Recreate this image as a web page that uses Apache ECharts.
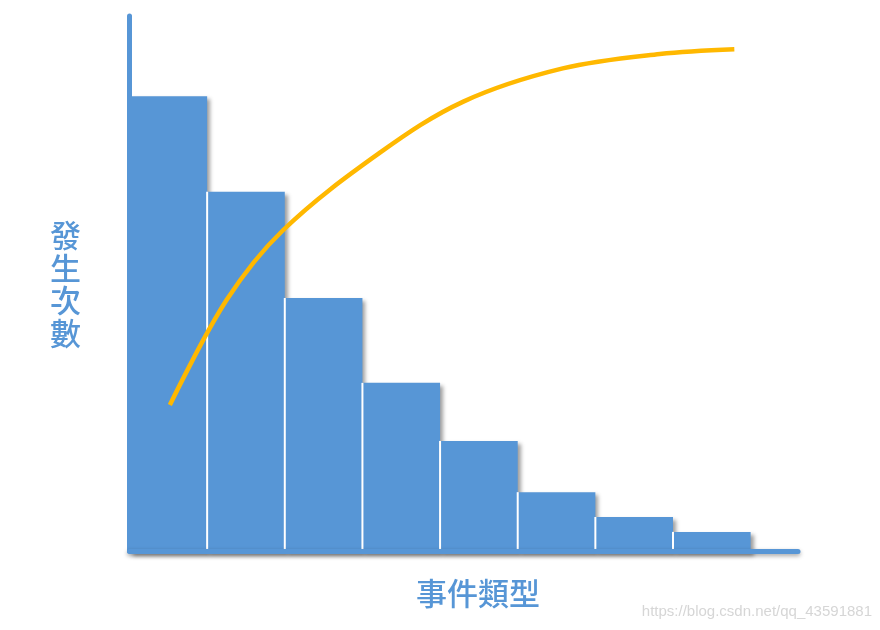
<!DOCTYPE html>
<html>
<head>
<meta charset="utf-8">
<script src="https://cdn.jsdelivr.net/npm/echarts@6/dist/echarts.min.js"></script>
<style>html,body{margin:0;padding:0;background:#fff;}#c{width:880px;height:630px;}</style>
</head>
<body>
<div id="c"></div>
<script>
// Bar values (occurrence counts per event type)
var barValues = [119, 94, 66.2, 44, 28.8, 15.4, 8.9, 5];
// Cumulative curve: x positions (in category units from left axis) and percent values
var curveX = [0.52, 1.25, 1.98, 3.23, 4.30, 5.58, 6.83, 7.79];
var curveY = [27.3, 46.9, 60.0, 74.5, 84.0, 90.2, 92.9, 93.8];
var yTitle = '發生次數';
var xTitle = '事件類型';
var watermark = 'https://blog.csdn.net/qq_43591881';

var BLUE = '#5796d6';
var GOLD = '#FFB800';

var barData = barValues.map(function (v, i) { return [i, v]; });
var lineData = curveX.map(function (x, i) { return [x, curveY[i]]; });

var chart = echarts.init(document.getElementById('c'));
chart.setOption({
  animation: false,
  backgroundColor: '#fff',
  grid: { left: 129.5, right: 82, top: 16, bottom: 79 },
  xAxis: {
    type: 'value', min: 0, max: 8.61, z: 3,
    axisLine: { show: true, lineStyle: { color: BLUE, width: 5, shadowColor: 'rgba(0,0,0,0.35)', shadowBlur: 4, shadowOffsetY: 2 } },
    axisTick: { show: false }, axisLabel: { show: false }, splitLine: { show: false }
  },
  yAxis: [
    {
      type: 'value', min: 0, max: 140, z: 3,
      axisLine: { show: true, lineStyle: { color: BLUE, width: 5 } },
      axisTick: { show: false }, axisLabel: { show: false }, splitLine: { show: false }
    },
    {
      type: 'value', min: 0, max: 100, show: false
    }
  ],
  series: [
    {
      type: 'custom',
      z: 2,
      data: barData,
      renderItem: function (params, api) {
        var i = api.value(0), v = api.value(1);
        var p1 = api.coord([i, v]);
        var p0 = api.coord([i + 1, 0]);
        var children = [{
          type: 'rect',
          shape: { x: p1[0], y: p1[1], width: p0[0] - p1[0], height: p0[1] - p1[1] + 2 },
          style: { fill: BLUE, shadowColor: 'rgba(0,0,0,0.38)', shadowBlur: 4, shadowOffsetX: 3, shadowOffsetY: 3 }
        }];
        if (i > 0) {
          children.push({
            type: 'line',
            shape: { x1: p1[0], y1: p1[1], x2: p1[0], y2: p0[1] },
            style: { stroke: '#ffffff', lineWidth: 2 }
          });
        }
        return { type: 'group', children: children };
      }
    },
    {
      type: 'line',
      yAxisIndex: 1,
      z: 5,
      data: lineData,
      smooth: 0.35,
      showSymbol: false,
      symbol: 'none',
      lineStyle: { color: GOLD, width: 4.5 }
    }
  ],
  graphic: [
    {
      type: 'text', left: 50, top: 219, z: 10,
      style: {
        text: yTitle.split('').join('\n'),
        font: '500 31px "Noto Sans CJK TC", sans-serif',
        lineHeight: 32.5, fill: BLUE, textAlign: 'left'
      }
    },
    {
      type: 'text', left: 416, top: 578, z: 10,
      style: {
        text: xTitle,
        font: '500 31px "Noto Sans CJK TC", sans-serif',
        fill: BLUE
      }
    },
    {
      type: 'text', right: 8, top: 604, z: 10,
      style: {
        text: watermark,
        font: '15px "Liberation Sans", Arial, sans-serif',
        fill: '#d6d6d6'
      }
    }
  ]
});
</script>
</body>
</html>
